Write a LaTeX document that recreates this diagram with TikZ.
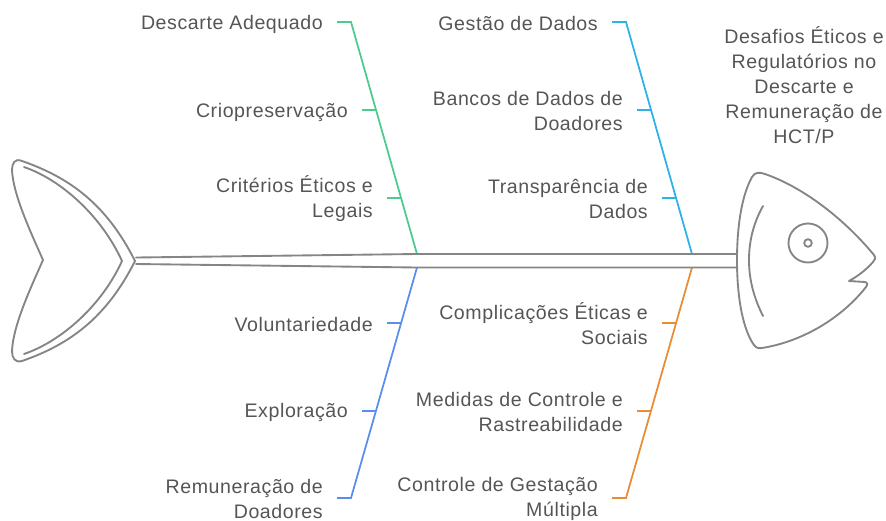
\documentclass[tikz,border=0pt]{standalone}
\usepackage{fontspec}
\setmainfont[LetterSpace=3.0]{Liberation Sans}
\definecolor{bonegray}{HTML}{858585}
\definecolor{labelgray}{HTML}{555555}
\definecolor{ribgreen}{HTML}{4CCB8F}
\definecolor{ribcyan}{HTML}{2DB2E6}
\definecolor{ribblue}{HTML}{5B8DEF}
\definecolor{riborange}{HTML}{E88D34}
\tikzset{
  cause/.style={anchor=east,inner sep=0pt,align=right,text=labelgray,font=\fontsize{16.7}{21.3}\selectfont},
  effect/.style={inner sep=0pt,align=center,text=labelgray,font=\fontsize{16.7}{21.3}\selectfont},
  bone/.style={draw=bonegray,line width=1.6pt,line join=round,line cap=round},
  rib/.style={line width=1.5pt}
}
\begin{document}
\begin{tikzpicture}[x=0.03cm,y=-0.03cm]
\useasboundingbox (0,0) rectangle (886,520);

% spine
\coordinate (s1) at (136,257.5);
\coordinate (s2) at (417,254);
\coordinate (s3) at (692,254);
\coordinate (s4) at (737,254);
\coordinate (s5) at (136,264);
\coordinate (s6) at (417,267.5);
\coordinate (s7) at (692,267.5);
\coordinate (s8) at (737,267.5);

% ribs
\coordinate (g0) at (337,22);
\coordinate (g1) at (351,22);
\coordinate (c0) at (612,22);
\coordinate (c1) at (626,22);
\coordinate (b0) at (337,498);
\coordinate (b1) at (351,498);
\coordinate (o0) at (612,498);
\coordinate (o1) at (626,498);
\draw[rib,ribgreen] (g0) -- (g1) -- (s2);
\draw[rib,ribcyan] (c0) -- (c1) -- (s3);
\draw[rib,ribblue] (b0) -- (b1) -- (s6);
\draw[rib,riborange] (o0) -- (o1) -- (s7);

% ticks
\coordinate (g2) at (362,110);
\coordinate (g3) at (376,110);
\coordinate (g4) at (387,198);
\coordinate (g5) at (401,198);
\coordinate (c2) at (637,110);
\coordinate (c3) at (651,110);
\coordinate (c4) at (662,198);
\coordinate (c5) at (676,198);
\coordinate (b2) at (362,411);
\coordinate (b3) at (376,411);
\coordinate (b4) at (387,323);
\coordinate (b5) at (401,323);
\coordinate (o2) at (637,411);
\coordinate (o3) at (651,411);
\coordinate (o4) at (662,323);
\coordinate (o5) at (676,323);
\draw[rib,ribgreen] (g2) -- (g3);
\draw[rib,ribgreen] (g4) -- (g5);
\draw[rib,ribcyan] (c2) -- (c3);
\draw[rib,ribcyan] (c4) -- (c5);
\draw[rib,ribblue] (b2) -- (b3);
\draw[rib,ribblue] (b4) -- (b5);
\draw[rib,riborange] (o2) -- (o3);
\draw[rib,riborange] (o4) -- (o5);

\draw[bone] (s1) -- (s2) -- (s4);
\draw[bone] (s5) -- (s6) -- (s8);

% tail
\draw[bone] (135,261) .. controls (106,203) and (68,177) .. (22,161)
  .. controls (15,158) and (12,163) .. (12,170)
  .. controls (13,195) and (32,235) .. (43,260)
  .. controls (32,285) and (13,325) .. (12,351)
  .. controls (12,358) and (15,363) .. (22,361)
  .. controls (68,345) and (106,319) .. (135,261) -- cycle;
\draw[bone] (24,167) .. controls (62,180) and (102,217) .. (122,261)
  .. controls (102,305) and (62,341) .. (24,354);

% head
\draw[bone] (737,260) .. controls (737,225) and (742,195) .. (752,177)
  .. controls (755,172) and (759,172) .. (765,174)
  .. controls (805,188) and (845,220) .. (874,255)
  .. controls (876,258) and (875,260) .. (873,262)
  .. controls (866,270) and (858,276) .. (849,281)
  -- (865,282)
  .. controls (868,283) and (868,285) .. (866,287)
  .. controls (840,320) and (800,342) .. (762,348)
  .. controls (757,349) and (755,347) .. (752,342)
  .. controls (742,325) and (737,295) .. (737,260) -- cycle;
\draw[bone] (763,206) .. controls (754,222) and (749,240) .. (749,260)
  .. controls (749,280) and (754,298) .. (763,316);
\node[bone,circle,inner sep=0pt,minimum size=1.17cm] (eye) at (808,243) {};
\node[bone,circle,inner sep=0pt,minimum size=0.23cm] (pupil) at (808,243) {};

% labels
\node[cause] (descarte) at (323,24) {Descarte Adequado};
\node[cause] (crio) at (348,112) {Criopreservação};
\node[cause] (criterios) at (373,199) {Critérios Éticos e\\Legais};
\node[cause] (gestao) at (598,24) {Gestão de Dados};
\node[cause] (bancos) at (623,111) {Bancos de Dados de\\Doadores};
\node[cause] (transp) at (648,199) {Transparência de\\Dados};
\node[cause] (volunt) at (373,324) {Voluntariedade};
\node[cause] (explor) at (348,412) {Exploração};
\node[cause] (remun) at (323,499) {Remuneração de\\Doadores};
\node[cause] (compl) at (648,323.5) {Complicações Éticas e\\Sociais};
\node[cause] (medidas) at (623,412) {Medidas de Controle e\\Rastreabilidade};
\node[cause] (controle) at (598,499) {Controle de Gestação\\Múltipla};
\node[effect] (desafios) at (804,85.5) {Desafios Éticos e\\Regulatórios no\\Descarte e\\Remuneração de\\HCT/P};
\end{tikzpicture}
\end{document}
